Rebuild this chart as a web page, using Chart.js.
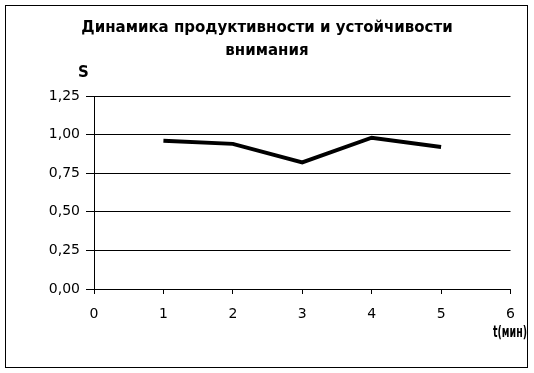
<!DOCTYPE html>
<html>
<head>
<meta charset="utf-8">
<script src="https://cdn.jsdelivr.net/npm/chart.js@4/dist/chart.umd.min.js"></script>
<style>
  body { margin: 0; background: #fff; }
  #wrap { width: 534px; height: 373px; }
</style>
</head>
<body>
<div id="wrap"><canvas id="attnChart"></canvas></div>
<script>
// data
const minutes = [1, 2, 3, 4, 5];
const sValues = [0.96, 0.94, 0.82, 0.98, 0.92];
const yTickLabels = ['0,00', '0,25', '0,50', '0,75', '1,00', '1,25'];
const xTickLabels = ['0', '1', '2', '3', '4', '5', '6'];

const titleLines = ['Динамика продуктивности и устойчивости', 'внимания'];
const yAxisName = 'S';
const xAxisName = 't(мин)';

// axis names + outer frame, drawn like the spreadsheet version
const frameAndNames = {
  id: 'frameAndNames',
  afterDraw(chart) {
    const ctx = chart.ctx;
    ctx.save();
    ctx.strokeStyle = '#000';
    ctx.lineWidth = 1;
    ctx.strokeRect(5.5, 5.5, 522, 362);

    ctx.fillStyle = '#000';
    ctx.textBaseline = 'middle';
    ctx.textAlign = 'left';
    ctx.font = 'bold 15px "DejaVu Sans"';
    ctx.fillText(yAxisName, 78, 73);

    // the x name is squeezed in the original
    let w = ctx.measureText(xAxisName).width;
    ctx.translate(493, 333);
    ctx.scale(34 / w, 1);
    ctx.fillText(xAxisName, 0, 0);
    ctx.restore();
  }
};

document.addEventListener('DOMContentLoaded', () => {
  const ctx = document.getElementById('attnChart').getContext('2d');
  new Chart(ctx, {
    type: 'line',
    data: {
      datasets: [{
        data: minutes.map((m, i) => ({ x: m, y: sValues[i] })),
        borderColor: '#000',
        borderWidth: 4,
        borderCapStyle: 'butt',
        pointRadius: 0,
        tension: 0,
        fill: false
      }]
    },
    options: {
      responsive: true,
      maintainAspectRatio: false,
      animation: false,
      layout: { padding: { left: 23.5, right: 23.5, top: 5, bottom: 5 } },
      plugins: {
        legend: { display: false },
        tooltip: { enabled: false },
        title: {
          display: true,
          text: titleLines,
          color: '#000',
          font: { family: 'DejaVu Sans', size: 15, weight: 'bold', lineHeight: '23px' },
          padding: { top: 11.5, bottom: 33.5 }
        }
      },
      scales: {
        x: {
          type: 'linear',
          min: 0,
          max: 6,
          afterFit: s => { s.height = 79; },
          grid: { drawOnChartArea: false, drawTicks: true, tickLength: 5, color: '#000' },
          border: { color: '#000' },
          ticks: {
            stepSize: 1,
            padding: 12,
            color: '#000',
            font: { family: 'DejaVu Sans', size: 14 },
            callback: (v, i) => xTickLabels[i]
          }
        },
        y: {
          min: 0,
          max: 1.25,
          afterFit: s => { s.width = 70.5; },
          grid: { color: '#000', tickLength: 8 },
          border: { color: '#000' },
          ticks: {
            stepSize: 0.25,
            padding: 6,
            color: '#000',
            font: { family: 'DejaVu Sans', size: 14 },
            callback: (v, i) => yTickLabels[i]
          }
        }
      }
    },
    plugins: [frameAndNames]
  });
});
</script>
</body>
</html>
